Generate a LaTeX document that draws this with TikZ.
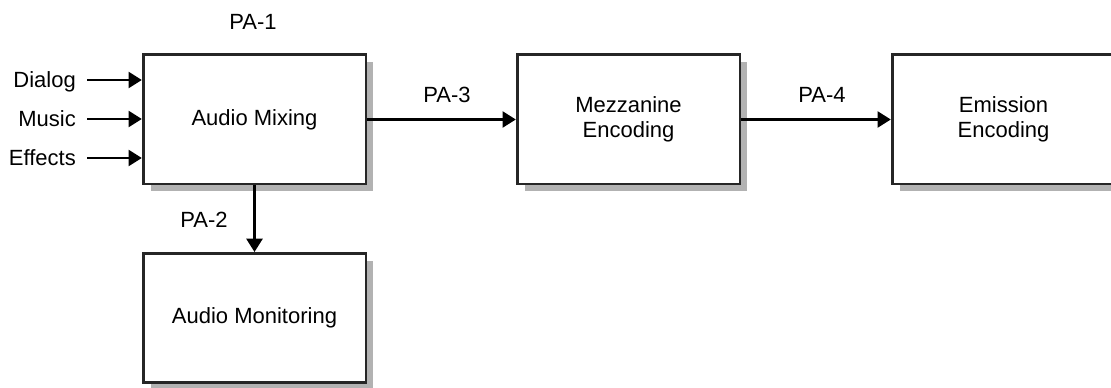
\documentclass[tikz,border=0pt]{standalone}
\usepackage{fontspec}
\setmainfont{Liberation Sans}
\usetikzlibrary{positioning,shadows,arrows.meta}

\tikzset{every picture/.style={line width=0.75pt}}
\tikzset{
  block/.style={draw=black!85, line width=2pt, fill=white, minimum width=167pt, minimum height=97pt, align=center, font=\fontsize{16.5}{19}\selectfont, drop shadow={shadow xshift=5.5pt, shadow yshift=-5.5pt, fill=black!30, opacity=1}},
  flow/.style={line width=2pt, -{Triangle[length=10pt,width=12pt]}},
  tag/.style={inner sep=0pt, text height=11.8pt, text depth=0pt, font=\fontsize{16.5}{19}\selectfont}
}

\begin{document}
\begin{tikzpicture}[x=0.75pt,y=0.75pt,yscale=-1,xscale=1]
\useasboundingbox (0,0) rectangle (1111,388);
\clip (0,0) rectangle (1111,388);

%Shape: Rectangle [id:mix]
\node[block] (mix) at (254.5,119.5) {Audio Mixing};
%Shape: Rectangle [id:mon]
\node[block] (mon) at (254.5,318) {Audio Monitoring};
%Shape: Rectangle [id:mez]
\node[block] (mez) at (628.5,119.5) {Mezzanine\\Encoding};
%Shape: Rectangle [id:emi]
\node[block] (emi) at (1003.5,119.5) {Emission\\Encoding};

%Inputs
\coordinate (inD) at (87,80);
\coordinate (inM) at (87,119);
\coordinate (inE) at (87,158);
\draw[flow] (inD) -- (inD -| mix.west);
\draw[flow] (inM) -- (inM -| mix.west);
\draw[flow] (inE) -- (inE -| mix.west);

%Straight Lines
\draw[flow] (mix.east) -- (mez.west);
\draw[flow] (mez.east) -- (emi.west);
\draw[flow] (mix.south) -- (mon.north);

% Text Node
\node[tag, left=8pt of inD] (dlg) {Dialog};
% Text Node
\node[tag, left=8pt of inM] (mus) {Music};
% Text Node
\node[tag, left=8pt of inE] (eff) {Effects};
% Text Node
\node[tag] (pa1) at (253,22) {PA-1};
% Text Node
\node[tag] (pa2) at (204,220) {PA-2};
% Text Node
\node[tag] (pa3) at (447,95) {PA-3};
% Text Node
\node[tag] (pa4) at (822,95) {PA-4};

\end{tikzpicture}
\end{document}
